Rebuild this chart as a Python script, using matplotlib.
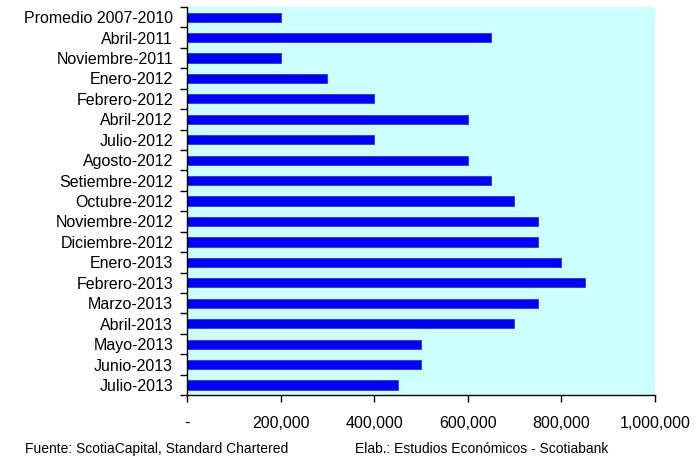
import matplotlib
matplotlib.use('Agg')
import matplotlib.pyplot as plt
import numpy as np

plt.rcParams['font.family'] = ['Liberation Sans', 'DejaVu Sans']

# categories top to bottom
categories = ['Promedio 2007-2010', 'Abril-2011', 'Noviembre-2011', 'Enero-2012',
              'Febrero-2012', 'Abril-2012', 'Julio-2012', 'Agosto-2012',
              'Setiembre-2012', 'Octubre-2012', 'Noviembre-2012', 'Diciembre-2012',
              'Enero-2013', 'Febrero-2013', 'Marzo-2013', 'Abril-2013',
              'Mayo-2013', 'Junio-2013', 'Julio-2013']
values = [200000, 650000, 200000, 300000, 400000, 600000, 400000, 600000,
          650000, 700000, 750000, 750000, 800000, 850000, 750000, 700000,
          500000, 500000, 450000]
xticks = [0, 200000, 400000, 600000, 800000, 1000000]
xtick_labels = ['-', '200,000', '400,000', '600,000', '800,000', '1,000,000']

fig = plt.figure(figsize=(6.98, 4.59), dpi=100)
ax = fig.add_axes([0.268, 0.139, 0.670, 0.846])
ax.set_facecolor('#CCFFFF')

n = len(categories)
ypos = np.arange(n)
ax.barh(ypos, values, height=0.45, color='#0000FF', edgecolor='#3333CC', linewidth=0.6)

ax.set_xlim(0, 1000000)
ax.set_ylim(n - 0.5, -0.5)

# category labels without ticks, ticks at boundaries
ax.set_yticks(ypos)
ax.set_yticklabels(categories, fontsize=11.5)
ax.tick_params(axis='y', length=0, pad=10)
ax.set_yticks(np.arange(-0.5, n, 1), minor=True)
ax.tick_params(axis='y', which='minor', length=5, width=1, direction='out')

ax.set_xticks(xticks)
ax.set_xticklabels(xtick_labels, fontsize=11.5)
ax.tick_params(axis='x', length=5, width=1, direction='out', pad=10)

for s in ['top', 'right']:
    ax.spines[s].set_visible(False)
ax.spines['left'].set_color('black')
ax.spines['bottom'].set_color('black')
ax.spines['left'].set_linewidth(1)
ax.spines['bottom'].set_linewidth(1)

fig.text(25 / 698, 1 - 449 / 459, 'Fuente: ScotiaCapital, Standard Chartered',
         fontsize=10, va='center', ha='left')
fig.text(355 / 698, 1 - 449 / 459, 'Elab.: Estudios Económicos - Scotiabank',
         fontsize=10, va='center', ha='left')

fig.savefig('out.png', dpi=100)
